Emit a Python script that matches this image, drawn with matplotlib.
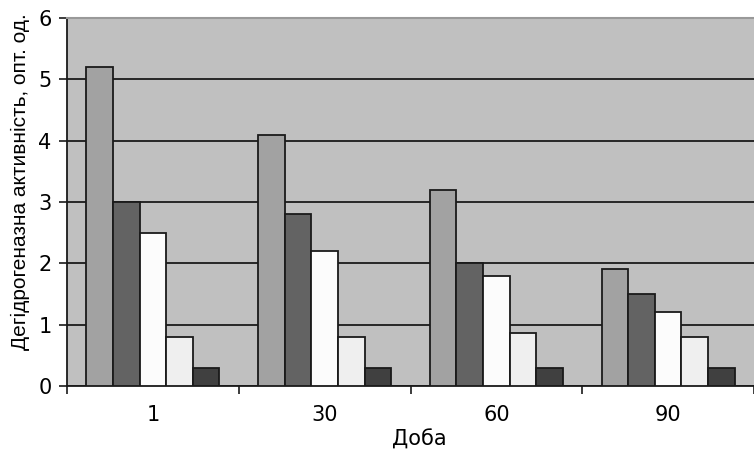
import matplotlib
matplotlib.use("Agg")
import matplotlib.pyplot as plt
import numpy as np

plt.rcParams['font.family'] = ['Liberation Sans', 'DejaVu Sans']

days = ["1", "30", "60", "90"]
s1 = [5.2, 4.1, 3.2, 1.9]
s2 = [3.0, 2.8, 2.0, 1.5]
s3 = [2.5, 2.2, 1.8, 1.2]
s4 = [0.8, 0.8, 0.87, 0.8]
s5 = [0.3, 0.3, 0.3, 0.3]
series = [s1, s2, s3, s4, s5]
colors = ["#a2a2a2", "#636363", "#fcfcfc", "#efefef", "#404040"]

fig = plt.figure(figsize=(7.54, 4.53), dpi=100)
ax = fig.add_axes([67/754, 1-386/453, 1-67/754, (386-18)/453])
ax.set_facecolor("#c0c0c0")

x = np.arange(len(days))
w = 0.155
for i, (vals, c) in enumerate(zip(series, colors)):
    ax.bar(x + (i - 2) * w, vals, w, color=c, edgecolor="#1a1a1a", linewidth=1.3, zorder=3)

ax.set_xlim(-0.5, len(days) - 0.5)
ax.set_ylim(0, 6)
ax.set_yticks(range(0, 7))
ax.yaxis.grid(True, color="#1a1a1a", linewidth=1.3, zorder=1)
ax.set_axisbelow(True)
ax.set_xticks(x)
ax.set_xticklabels(days, family=['DejaVu Sans'], fontsize=15)
ax.set_xticks(np.arange(-0.5, len(days) - 0.4, 1.0), minor=True)
ax.tick_params(axis='x', which='major', length=0, pad=14)
ax.tick_params(axis='x', which='minor', length=6, width=1.2, color="#1a1a1a")
ax.tick_params(axis='y', length=6, width=1.2, color="#1a1a1a", pad=5)
for lbl in ax.get_yticklabels():
    lbl.set_family(['DejaVu Sans'])
    lbl.set_fontsize(15)

fig.canvas.draw()
gl = ax.yaxis.get_gridlines()
gl[-1].set_visible(False)

for s in ['right']:
    ax.spines[s].set_visible(False)
ax.spines['top'].set_color("#999999")
ax.spines['top'].set_linewidth(1.5)
for s in ['left', 'bottom']:
    ax.spines[s].set_color("#1a1a1a")
    ax.spines[s].set_linewidth(1.3)

ax.set_xlabel("Доба", fontsize=15, family=['DejaVu Sans'])
ax.xaxis.set_label_coords((419-67)/687, -(440-386)/368, transform=ax.transAxes)
ax.xaxis.label.set_va('center')
ax.set_ylabel("Дегідрогеназна активність, опт. од.", fontsize=15)
ax.yaxis.set_label_coords(-(67-20)/687, (386-182)/368, transform=ax.transAxes)
ax.yaxis.label.set_va('center')

fig.savefig("out.png", dpi=100)
